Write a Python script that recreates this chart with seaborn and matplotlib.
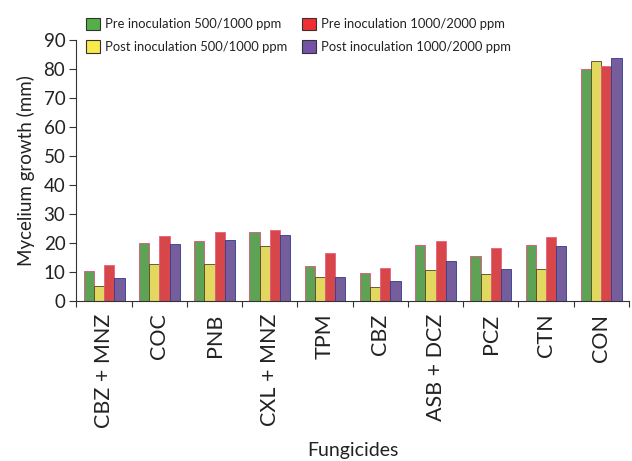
import matplotlib
matplotlib.use("Agg")
import matplotlib.pyplot as plt
import seaborn as sns
import pandas as pd
import numpy as np
from matplotlib.ticker import FixedLocator
from matplotlib.patches import Patch

fungicides = ["CBZ + MNZ", "COC", "PNB", "CXL + MNZ", "TPM", "CBZ",
              "ASB + DCZ", "PCZ", "CTN", "CON"]
series = ["Pre inoculation 500/1000 ppm", "Post inoculation 500/1000 ppm",
          "Pre inoculation 1000/2000 ppm", "Post inoculation 1000/2000 ppm"]

pre_low = [10.3, 20.1, 20.7, 23.9, 12.0, 9.5, 19.4, 15.7, 19.4, 80.0]
post_low = [5.2, 12.9, 12.9, 18.9, 8.2, 4.8, 10.8, 9.4, 11.1, 82.8]
pre_high = [12.6, 22.5, 23.7, 24.4, 16.6, 11.3, 20.7, 18.4, 22.2, 81.0]
post_high = [7.9, 19.5, 20.9, 22.8, 8.3, 6.9, 13.7, 10.9, 19.0, 83.8]

fill_colors = ["#54af49", "#f8ea4a", "#ef2f33", "#7453a6"]
edge_colors = ["#e2507a", "#4a4520", "#e8607e", "#2c3a8c"]

rows = []
for name, vals in zip(series, [pre_low, post_low, pre_high, post_high]):
    for f, v in zip(fungicides, vals):
        rows.append({"Fungicide": f, "Growth": v, "Treatment": name})
df = pd.DataFrame(rows)

sns.set_style("ticks")
plt.rcParams["font.family"] = ["Lato", "DejaVu Sans"]
text_color = "#222222"

fig = plt.figure(figsize=(6.32, 4.61), dpi=100)
ax = fig.add_axes([0.121, 0.347, 0.874, 0.566])

sns.barplot(data=df, x="Fungicide", y="Growth", hue="Treatment",
            order=fungicides, hue_order=series, palette=fill_colors,
            width=0.74, ax=ax, legend=False, errorbar=None)

for cont, ec in zip(ax.containers, edge_colors):
    for bar in cont:
        bar.set_edgecolor(ec)
        bar.set_linewidth(0.6)

ax.set_xlim(-0.5, len(fungicides) - 0.5)
ax.set_ylim(0, 90)
ax.set_yticks(np.arange(0, 91, 10))
ax.tick_params(axis="y", labelsize=13.5, length=5, width=0.8,
               color="#333333", labelcolor=text_color, pad=3)
ax.set_xticks(range(len(fungicides)))
ax.set_xticklabels(fungicides, rotation=90, fontsize=15.5, color=text_color)
ax.tick_params(axis="x", length=0, pad=9)
ax.xaxis.set_minor_locator(FixedLocator(np.arange(-0.5, len(fungicides), 1.0)))
ax.tick_params(axis="x", which="minor", length=4, width=0.8, color="#333333")

for s in ["top", "right"]:
    ax.spines[s].set_visible(False)
for s in ["left", "bottom"]:
    ax.spines[s].set_color("#333333")
    ax.spines[s].set_linewidth(0.8)

ax.set_ylabel("Mycelium growth (mm)", fontsize=13.5, labelpad=6, color=text_color)
ax.set_xlabel("Fungicides", fontsize=14, labelpad=10, color=text_color)

handles = [Patch(facecolor=c, edgecolor="#333333", linewidth=0.8) for c in fill_colors]
fig.legend(handles, series,
           loc="upper left", bbox_to_anchor=(0.136, 0.962), ncol=2,
           frameon=False, fontsize=9.4, handlelength=1.05, handleheight=1.05,
           handletextpad=0.4, columnspacing=1.15, labelspacing=0.8,
           borderpad=0, borderaxespad=0, labelcolor=text_color)

fig.savefig("out.png", dpi=100)
